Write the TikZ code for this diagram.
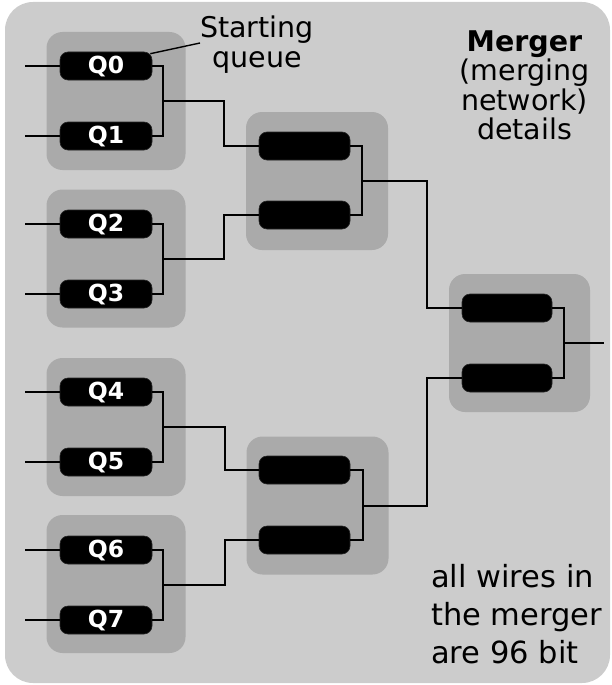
\documentclass[tikz,border=0pt]{standalone}
\usepackage{fontspec}
\setmainfont{DejaVu Sans}
\definecolor{outergray}{RGB}{204,204,204}
\definecolor{grpgray}{RGB}{170,170,170}
\begin{document}
\begin{tikzpicture}[x=1pt,y=-1pt,
  wire/.style={line width=1.9pt, black},
  pill/.style={fill=black, draw=black!85, line width=0.6pt, rounded corners=8pt, minimum width=92pt, minimum height=28pt, inner sep=0pt, text=white, font=\fontsize{23.5}{23.5}\selectfont\bfseries},
  grp/.style={fill=grpgray, rounded corners=16pt, inner sep=0pt, minimum width=139pt, minimum height=138pt},
  lbl/.style={font=\fontsize{28.5}{29.5}\selectfont, align=center, inner sep=0pt},
]
\useasboundingbox (0,0) rectangle (612,685);
\fill[outergray, rounded corners=28pt] (5,2) rectangle (610,683);

% group boxes
\node[grp] (g1) at (116,101) {};
\node[grp] (g2) at (116,258.5) {};
\node[grp] (g3) at (116,427) {};
\node[grp] (g4) at (116,584) {};
\node[grp, minimum width=142pt, minimum height=138pt] (g5) at (317,181) {};
\node[grp, minimum width=142pt, minimum height=138pt] (g6) at (317.5,505.5) {};
\node[grp, minimum width=141pt, minimum height=138pt] (g7) at (519.5,343) {};

% first level queues
\node[pill] (q0) at (106,66) {Q0};
\node[pill] (q1) at (106,136) {Q1};
\node[pill] (q2) at (106,224) {Q2};
\node[pill] (q3) at (106,294) {Q3};
\node[pill] (q4) at (106,392) {Q4};
\node[pill] (q5) at (106,462) {Q5};
\node[pill] (q6) at (106,550) {Q6};
\node[pill] (q7) at (106,620) {Q7};

% second level
\node[pill, minimum width=91pt] (a0) at (304.5,146) {};
\node[pill, minimum width=91pt] (a1) at (304.5,215) {};
\node[pill, minimum width=91pt] (b0) at (304.5,470) {};
\node[pill, minimum width=91pt] (b1) at (304.5,540) {};

% third level
\node[pill, minimum width=90pt] (c0) at (507,308) {};
\node[pill, minimum width=90pt] (c1) at (507,378) {};

% inputs
\foreach \n/\y in {0/66,1/136,2/224,3/294,4/392,5/462,6/550,7/620}{
  \coordinate (in\n) at (25,\y);
  \draw[wire] (in\n) -- (q\n.west);
}

% level 1 joins
\coordinate (j1) at (163,101);
\coordinate (j2) at (163,259);
\coordinate (j3) at (163,427);
\coordinate (j4) at (163,585);
\coordinate (k1) at (224,101);
\coordinate (k2) at (224,259);
\coordinate (k3) at (225,427);
\coordinate (k4) at (225,585);
\draw[wire] (q0.east) -| (j1) |- (q1.east);
\draw[wire] (q2.east) -| (j2) |- (q3.east);
\draw[wire] (q4.east) -| (j3) |- (q5.east);
\draw[wire] (q6.east) -| (j4) |- (q7.east);
\draw[wire] (j1) -- (k1) |- (a0.west);
\draw[wire] (j2) -- (k2) |- (a1.west);
\draw[wire] (j3) -- (k3) |- (b0.west);
\draw[wire] (j4) -- (k4) |- (b1.west);

% level 2 joins
\coordinate (ja) at (362,181);
\coordinate (jb) at (363,506);
\coordinate (ka) at (427,181);
\coordinate (kb) at (427,506);
\draw[wire] (a0.east) -| (ja) |- (a1.east);
\draw[wire] (b0.east) -| (jb) |- (b1.east);
\draw[wire] (ja) -- (ka) |- (c0.west);
\draw[wire] (jb) -- (kb) |- (c1.west);

% level 3 join
\coordinate (jc) at (564,343);
\coordinate (out) at (604,343);
\draw[wire] (c0.east) -| (jc) |- (c1.east);
\draw[wire] (jc) -- (out);

% labels
\node[lbl, anchor=north] (start) at (257,16) {Starting\\queue};
\coordinate (lead) at (200,43);
\draw[line width=1.4pt] (q0.north east) ++(-2,2) coordinate (leadq) (leadq) -- (lead);
\node[lbl, anchor=north] (merger) at (524.5,30.5) {\textbf{Merger}\\(merging\\network)\\details};
\node[anchor=north west, inner sep=0pt, align=left, font=\fontsize{30.5}{38}\selectfont] (note) at (431,564) {all wires in\\the merger\\are 96 bit};
\end{tikzpicture}
\end{document}
